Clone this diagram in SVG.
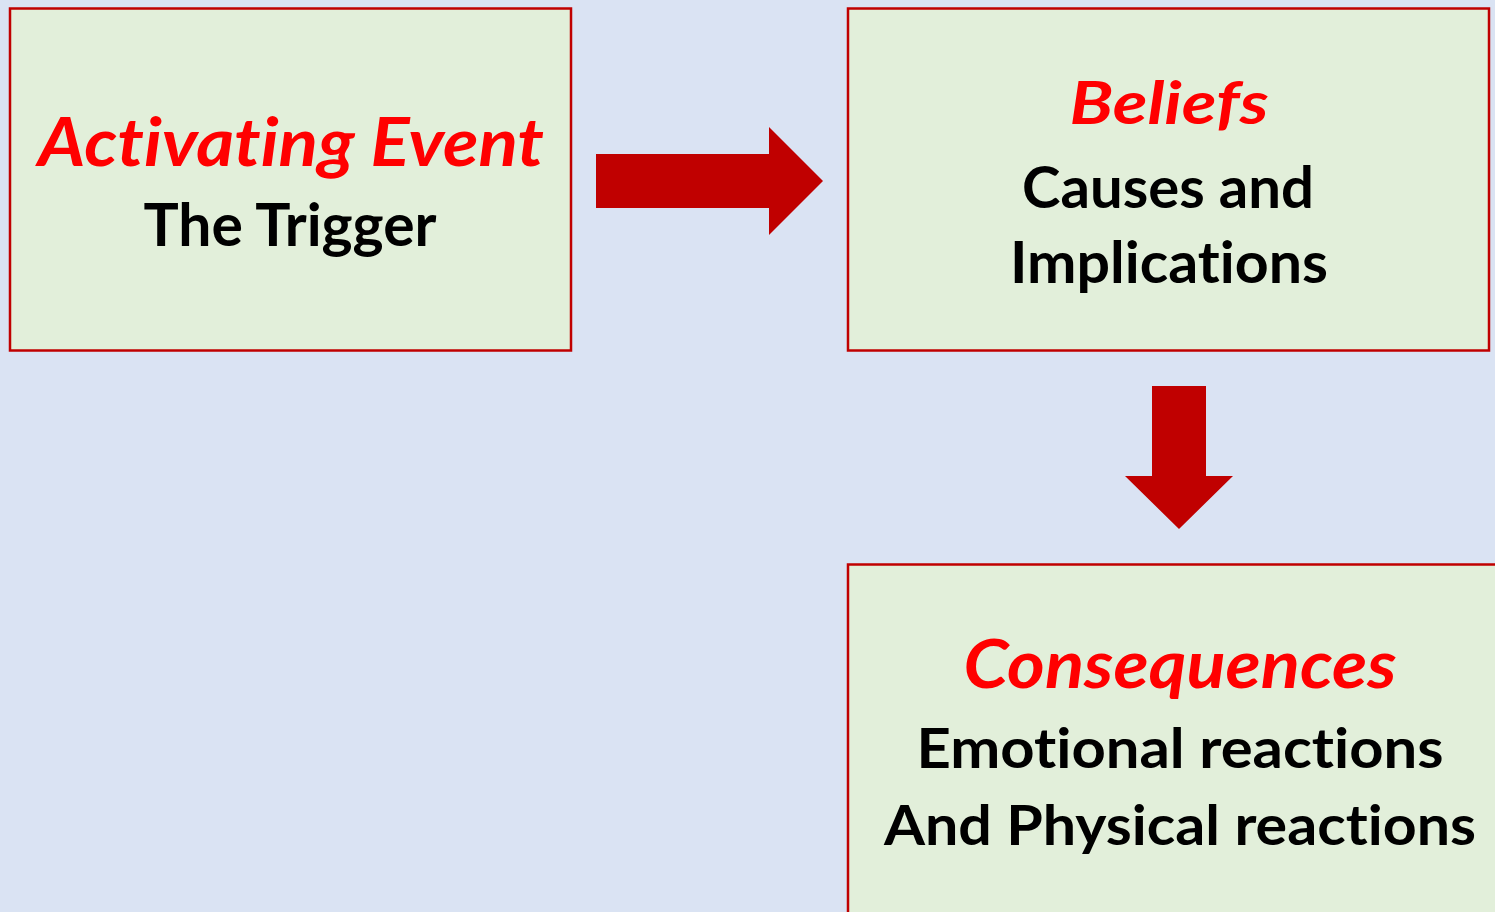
<svg xmlns="http://www.w3.org/2000/svg" width="1495" height="912" viewBox="0 0 1495 912">
<style>
.box{fill:#E2EFDA;stroke:#C00000;stroke-width:2.5}
.arrow{fill:#C00000}
.t{font-family:Lato,"Open Sans","Liberation Sans",sans-serif;font-weight:700;text-anchor:middle;font-variant-ligatures:none;font-feature-settings:"liga" 0,"clig" 0,"dlig" 0}
.red{fill:#FF0000;font-style:italic}
.blk{fill:#000000}
</style>
<rect x="0" y="0" width="1495" height="912" fill="#DAE3F3"/>
<g id="connectors">
<polygon class="arrow" points="596,154 769,154 769,127 823,181 769,235 769,208 596,208"/>
<polygon class="arrow" points="1152,386 1206,386 1206,476 1233,476 1179,529 1125,476 1152,476"/>
</g>
<g id="node-activating">
<rect class="box" x="10" y="8.5" width="561" height="342"/>
<text class="t red" x="291" y="166" font-size="67" textLength="506" lengthAdjust="spacingAndGlyphs">Activating Event</text>
<text class="t blk" x="290" y="246" font-size="59" textLength="293" lengthAdjust="spacingAndGlyphs">The Trigger</text>
</g>
<g id="node-beliefs">
<rect class="box" x="848" y="8.5" width="641" height="342"/>
<text class="t red" x="1169" y="124" font-size="59" textLength="199" lengthAdjust="spacingAndGlyphs">Beliefs</text>
<text class="t blk" x="1168" y="208" font-size="58" textLength="292" lengthAdjust="spacingAndGlyphs">Causes and</text>
<text class="t blk" x="1169" y="283" font-size="58" textLength="318" lengthAdjust="spacingAndGlyphs">Implications</text>
</g>
<g id="node-consequences">
<rect class="box" x="848" y="564.5" width="670" height="370"/>
<text class="t red" x="1180" y="688" font-size="66" textLength="433" lengthAdjust="spacingAndGlyphs">Consequences</text>
<text class="t blk" x="1180" y="768" font-size="55" textLength="527" lengthAdjust="spacingAndGlyphs">Emotional reactions</text>
<text class="t blk" x="1180" y="845" font-size="56" textLength="592" lengthAdjust="spacingAndGlyphs">And Physical reactions</text>
</g>
</svg>
